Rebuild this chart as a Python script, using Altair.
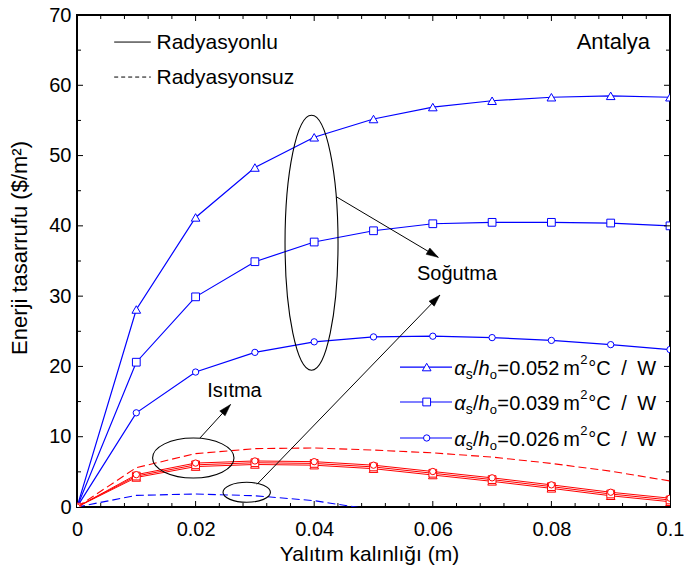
import math
import altair as alt
import pandas as pd

# ---------------- data ----------------
thickness = [0.0, 0.01, 0.02, 0.03, 0.04, 0.05, 0.06, 0.07, 0.08, 0.09, 0.10]

# cooling savings, with radiation (blue, solid)
cool_052 = [0.0, 28.1, 41.2, 48.3, 52.6, 55.2, 56.9, 57.8, 58.3, 58.5, 58.3]
cool_039 = [0.0, 20.6, 29.9, 34.9, 37.7, 39.3, 40.3, 40.5, 40.5, 40.4, 40.0]
cool_026 = [0.0, 13.4, 19.2, 22.0, 23.5, 24.2, 24.3, 24.1, 23.7, 23.1, 22.4]

# heating savings, with radiation (red, solid)
heat_052 = [0.0, 4.2, 5.75, 6.05, 5.95, 5.45, 4.55, 3.65, 2.65, 1.6, 0.75]
heat_039 = [0.0, 4.4, 6.0, 6.3, 6.2, 5.7, 4.8, 3.9, 2.9, 1.85, 1.0]
heat_026 = [0.0, 4.6, 6.25, 6.55, 6.45, 5.95, 5.05, 4.15, 3.15, 2.1, 1.25]

# without radiation (dashed)
heat_norad = [0.0, 5.6, 7.6, 8.3, 8.4, 8.1, 7.7, 7.1, 6.2, 5.1, 3.7]
cool_norad_x = [0.0, 0.01, 0.02, 0.03, 0.04, 0.05]
cool_norad = [0.0, 1.65, 1.85, 1.6, 0.9, -0.4]

x_tick_labels = [0.0, 0.02, 0.04, 0.06, 0.08, 0.1]
y_tick_labels = [0, 10, 20, 30, 40, 50, 60, 70]
x_major_inner = [0.02, 0.04, 0.06, 0.08]
x_minor = [0.004, 0.008, 0.012, 0.016, 0.024, 0.028, 0.032, 0.036, 0.044, 0.048,
           0.052, 0.056, 0.064, 0.068, 0.072, 0.076, 0.084, 0.088, 0.092, 0.096]
y_major_inner = [10, 20, 30, 40, 50, 60]
y_minor = [5, 15, 25, 35, 45, 55, 65]

# annotations (data units)
legend_line_x = [0.00627, 0.01244]
legend_line_y = [66.15, 61.17]
legend_text_x = 0.01341
legend_texts = ["Radyasyonlu", "Radyasyonsuz"]

series_legend_x = [0.05447, 0.06324]
series_legend_marker_x = 0.05897
series_legend_y = [19.91, 14.94, 9.82]
series_legend_values = ["0.052", "0.039", "0.026"]
series_legend_text_x = 0.06361

ell_x = [0.03955, 0.01961, 0.02862]
ell_y = [37.6, 6.97, 2.09]
ell_rx = [26.5, 40.7, 23.7]
ell_ry = [127.5, 20.0, 10.0]

arrow_x0 = [0.02074, 0.04373, 0.03035]
arrow_y0 = [9.82, 44.14, 3.23]
arrow_x1 = [0.02589, 0.06093, 0.06121]
arrow_y1 = [14.58, 35.52, 30.16]

note_text = ["Isıtma", "Soğutma"]
note_x = [0.02656, 0.06408]
note_y = [16.57, 33.14]
place_text = "Antalya"
place_x = 0.09663
place_y = 66.15

# ---------------- chart ----------------
W, H = 593, 492
XMAX, YMAX = 0.1, 70
FONT = "Liberation Sans"
BLUE = "#0000ff"
RED = "#ff0000"

xs = alt.Scale(domain=[0, XMAX], nice=False, zero=False)
ys = alt.Scale(domain=[0, YMAX], nice=False)

xaxis = alt.Axis(values=x_tick_labels, format="~g", title="Yalıtım kalınlığı (m)",
                 ticks=False, domain=False, grid=False, labelFont=FONT, labelFontSize=20,
                 labelColor="black", labelPadding=12, labelFlush=False, labelOverlap=False,
                 titleFont=FONT, titleFontSize=21, titleFontWeight="normal", titleColor="black",
                 titlePadding=4, titleX=292)
yaxis = alt.Axis(values=y_tick_labels, title="Enerji tasarrufu ($/m²)",
                 ticks=False, domain=False, grid=False, labelFont=FONT, labelFontSize=20,
                 labelColor="black", labelPadding=6, labelOverlap=False, labelFlush=False,
                 titleFont=FONT, titleFontSize=22, titleFontWeight="normal", titleColor="black",
                 titlePadding=17, titleY=232.5)


def X(f):
    return alt.X(f, type="quantitative", scale=xs, axis=xaxis)


def Y(f):
    return alt.Y(f, type="quantitative", scale=ys, axis=yaxis)


layers = []


def series(xv, yv, color, shape=None, size=None, dash=None, width=1.2):
    df = pd.DataFrame({"x": xv, "y": yv})
    kw = dict(color=color, strokeWidth=width, clip=True)
    if dash:
        kw["strokeDash"] = dash
    layers.append(alt.Chart(df).mark_line(**kw).encode(x=X("x"), y=Y("y")))
    if shape:
        layers.append(alt.Chart(df).mark_point(shape=shape, size=size, filled=True, fill="white",
                                               stroke=color, strokeWidth=1, opacity=1,
                                               fillOpacity=1, clip=True)
                      .encode(x=X("x"), y=Y("y")))


SHAPES = {"tri": ("triangle-up", 75), "sq": ("square", 60), "ci": ("circle", 40)}

# blue (cooling)
series(thickness, cool_052, BLUE, *SHAPES["tri"])
series(thickness, cool_039, BLUE, *SHAPES["sq"])
series(thickness, cool_026, BLUE, *SHAPES["ci"])
series(cool_norad_x, cool_norad, BLUE, dash=[8, 4], width=1.1)
# red (heating)
series(thickness, heat_norad, RED, dash=[8, 4], width=1.1)
series(thickness, heat_052, RED, *SHAPES["tri"], width=1.0)
series(thickness, heat_039, RED, *SHAPES["sq"], width=1.0)
series(thickness, heat_026, RED, *SHAPES["ci"], width=1.0)

# inward ticks on all four sides
def tick_layers(vals, axis, length):
    df = pd.DataFrame({"v": vals})
    base = alt.Chart(df).mark_rule(color="black", strokeWidth=1)
    if axis == "x":
        return [base.encode(x=X("v"), y=alt.value(H), y2=alt.value(H - length)),
                base.encode(x=X("v"), y=alt.value(0), y2=alt.value(length))]
    return [base.encode(y=Y("v"), x=alt.value(0), x2=alt.value(length)),
            base.encode(y=Y("v"), x=alt.value(W), x2=alt.value(W - length))]


layers += tick_layers(x_major_inner, "x", 6)
layers += tick_layers(x_minor, "x", 4)
layers += tick_layers(y_major_inner, "y", 6)
layers += tick_layers(y_minor, "y", 4)

# top-left legend
for i, (txt, dash) in enumerate(zip(legend_texts, [None, [4, 3]])):
    d = pd.DataFrame({"x": [legend_line_x[0]], "x2": [legend_line_x[1]], "y": [legend_line_y[i]]})
    kw = dict(color="black", strokeWidth=1)
    if dash:
        kw["strokeDash"] = dash
    layers.append(alt.Chart(d).mark_rule(**kw).encode(x=X("x"), x2="x2", y=Y("y")))
    t = pd.DataFrame({"x": [legend_text_x], "y": [legend_line_y[i]], "t": [txt]})
    layers.append(alt.Chart(t).mark_text(align="left", baseline="middle", font=FONT, fontSize=21,
                                         color="black", dy=1)
                  .encode(x=X("x"), y=Y("y"), text="t:N"))

# bottom-right series legend
for i, key in enumerate(["tri", "sq", "ci"]):
    d = pd.DataFrame({"x": [series_legend_x[0]], "x2": [series_legend_x[1]], "y": [series_legend_y[i]]})
    layers.append(alt.Chart(d).mark_rule(color=BLUE, strokeWidth=1.2).encode(x=X("x"), x2="x2", y=Y("y")))
    m = pd.DataFrame({"x": [series_legend_marker_x], "y": [series_legend_y[i]]})
    shp, sz = SHAPES[key]
    layers.append(alt.Chart(m).mark_point(shape=shp, size=sz, filled=True, fill="white", stroke=BLUE,
                                          strokeWidth=1, opacity=1, fillOpacity=1)
                  .encode(x=X("x"), y=Y("y")))

pieces = [  # text, dx, dy, size, style
    ("α", 0, 8, 20, "italic"),
    ("s", 11.5, 12, 14, "normal"),
    ("/", 18.8, 8, 20, "normal"),
    ("h", 24.4, 8, 20, "italic"),
    ("o", 35.6, 12, 13, "normal"),
    ("=", 43.0, 8, 20, "normal"),
    (None, 55.0, 8, 20, "normal"),
    ("m", 109.0, 8, 20, "normal"),
    ("2", 126.0, -3, 13, "normal"),
    ("°C", 134.0, 8, 20, "normal"),
    ("/", 167.0, 8, 20, "normal"),
    ("W", 183.0, 8, 20, "normal"),
]
for txt, dx, dy, fs, st in pieces:
    texts = series_legend_values if txt is None else [txt] * 3
    d = pd.DataFrame({"x": [series_legend_text_x] * 3, "y": series_legend_y, "t": texts})
    layers.append(alt.Chart(d).mark_text(align="left", baseline="alphabetic", font=FONT, fontSize=fs,
                                         fontStyle=st, color="black", dx=dx, dy=dy)
                  .encode(x=X("x"), y=Y("y"), text="t:N"))

# ellipses (custom symbol paths)
K = 0.5523
for i in range(len(ell_x)):
    R = max(ell_rx[i], ell_ry[i])
    a, b = ell_rx[i] / R, ell_ry[i] / R
    path = (f"M {a} 0 C {a} {K*b} {K*a} {b} 0 {b} C {-K*a} {b} {-a} {K*b} {-a} 0 "
            f"C {-a} {-K*b} {-K*a} {-b} 0 {-b} C {K*a} {-b} {a} {-K*b} {a} 0 Z")
    d = pd.DataFrame({"x": [ell_x[i]], "y": [ell_y[i]]})
    layers.append(alt.Chart(d).mark_point(shape=path, size=(2 * R) ** 2, filled=False,
                                          stroke="black", strokeWidth=1.1, opacity=1)
                  .encode(x=X("x"), y=Y("y")))

# arrows
px_x, px_y = W / XMAX, H / YMAX
angles = [math.degrees(math.atan2((x1 - x0) * px_x, (y1 - y0) * px_y)) % 360
          for x0, y0, x1, y1 in zip(arrow_x0, arrow_y0, arrow_x1, arrow_y1)]
arr = pd.DataFrame({"x": arrow_x0, "y": arrow_y0, "x2": arrow_x1, "y2": arrow_y1, "ang": angles})
layers.append(alt.Chart(arr).mark_rule(color="black", strokeWidth=1)
              .encode(x=X("x"), y=Y("y"), x2="x2", y2="y2"))
layers.append(alt.Chart(arr).mark_point(shape="M 0 0 L -0.3 1 L 0.3 1 Z", size=576, filled=True,
                                        fill="black", stroke="black", strokeWidth=0.5, opacity=1)
              .encode(x=X("x2"), y=Y("y2"), angle=alt.Angle("ang:Q", scale=None)))

# notes
nd = pd.DataFrame({"x": note_x, "y": note_y, "t": note_text})
layers.append(alt.Chart(nd).mark_text(align="center", baseline="middle", font=FONT, fontSize=20,
                                      color="black")
              .encode(x=X("x"), y=Y("y"), text="t:N"))
pd_ = pd.DataFrame({"x": [place_x], "y": [place_y], "t": [place_text]})
layers.append(alt.Chart(pd_).mark_text(align="right", baseline="middle", font=FONT, fontSize=22,
                                       color="black")
              .encode(x=X("x"), y=Y("y"), text="t:N"))

chart = (alt.layer(*layers)
         .properties(width=W, height=H,
                     padding={"left": 77, "top": 15, "right": 14, "bottom": 64},
                     autosize=alt.AutoSizeParams(type="none"),
                     background="white")
         .configure_view(stroke="black", strokeWidth=2))

chart.save("out.html", embed_options={"renderer": "svg", "actions": False})
